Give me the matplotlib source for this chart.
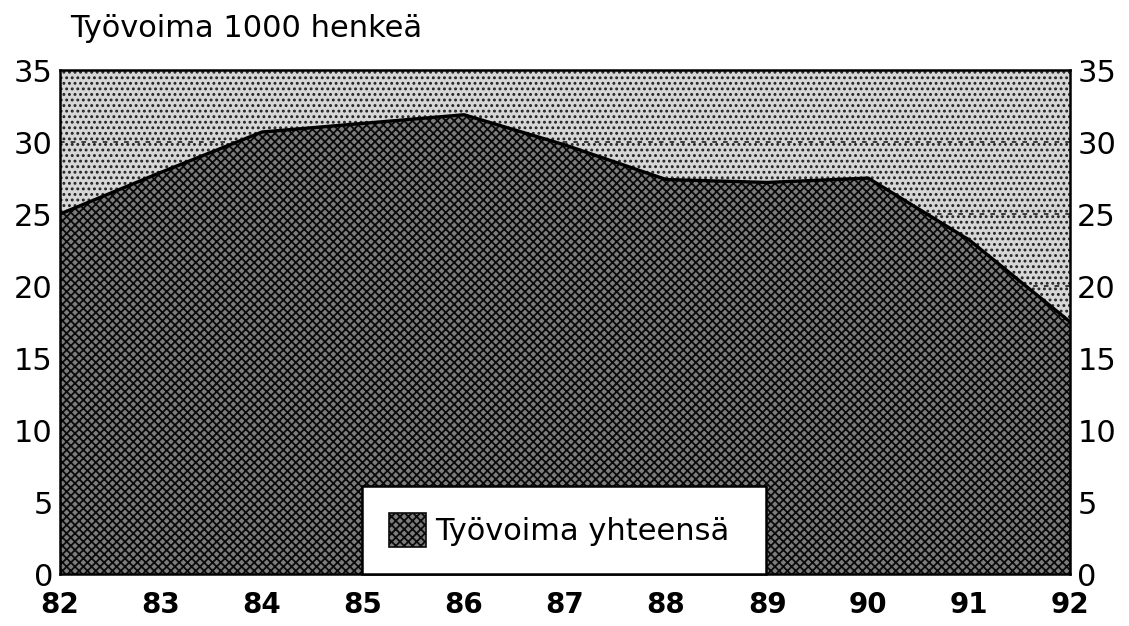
import numpy as np
import matplotlib.pyplot as plt
from matplotlib.patches import Patch, Rectangle

years = [82, 83, 84, 85, 86, 87, 88, 89, 90, 91, 92]
year_labels = ['82', '83', '84', '85', '86', '87', '88', '89', '90', '91', '92']
workforce = [25.0, 27.9, 30.7, 31.3, 31.9, 29.8, 27.4, 27.2, 27.5, 23.2, 17.5]
y_ticks = [0, 5, 10, 15, 20, 25, 30, 35]

plt.rcParams['font.family'] = ['DejaVu Sans']
plt.rcParams['hatch.linewidth'] = 1.3

fig = plt.figure(figsize=(11.29, 6.26), dpi=100)
ax = fig.add_axes([0.053, 0.083, 0.895, 0.805])

# light stippled background of the plot area
ax.add_patch(Rectangle((0, 0), 1, 1, transform=ax.transAxes, facecolor='#d6d6d6',
                       edgecolor='#222222', hatch='...', linewidth=0, zorder=0))

# dashed gridlines (only visible over the light background)
for t in y_ticks[1:-1]:
    ax.axhline(t, color='#111111', linestyle=(0, (3, 4)), linewidth=1.1, zorder=1)

ax.fill_between(years, workforce, 0, facecolor='#7c7c7c', edgecolor='#0a0a0a',
                hatch='xxxx', linewidth=0, zorder=2)
ax.plot(years, workforce, color='black', linewidth=2.4, zorder=3)

ax.set_xlim(82, 92)
ax.set_ylim(0, 35)
ax.set_xticks(years)
ax.set_xticklabels(year_labels, fontsize=20, fontweight='bold')
ax.set_yticks(y_ticks)
ax.tick_params(axis='y', labelsize=22, length=0, pad=5,
               left=True, right=True, labelleft=True, labelright=True)
ax.tick_params(axis='x', length=0, pad=12)
for s in ax.spines.values():
    s.set_linewidth(1.8)
    s.set_zorder(4)

fig.text(0.062, 0.955, 'Työvoima 1000 henkeä', fontsize=22, ha='left', va='center')

handle = Patch(facecolor='#7c7c7c', edgecolor='#0a0a0a', hatch='xxxx', linewidth=1.2)
leg = ax.legend([handle], ['Työvoima yhteensä'], loc='lower center',
                bbox_to_anchor=(0.299, 0.0, 0.4, 0.18), mode='expand', borderaxespad=0,
                fontsize=22, fancybox=False, framealpha=1, edgecolor='black',
                handlelength=1.2, handleheight=1.3, handletextpad=0.3, borderpad=0.9)
leg.get_frame().set_linewidth(1.8)
leg.set_zorder(5)

fig.savefig('out.png', dpi=100)
